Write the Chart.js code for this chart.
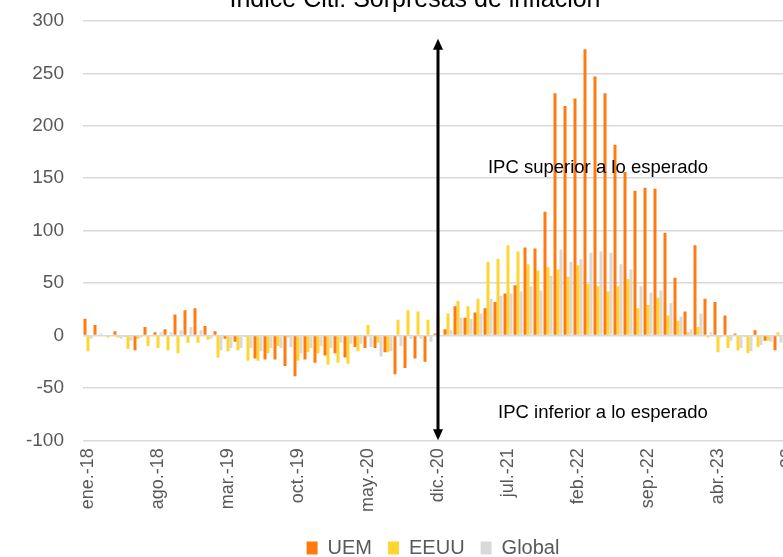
<!DOCTYPE html>
<html>
<head>
<meta charset="utf-8">
<script src="https://cdn.jsdelivr.net/npm/chart.js@4"></script>
<style>
  html, body { margin: 0; padding: 0; background: #fff; overflow: hidden; }
  body { width: 783px; height: 557px; position: relative; }
  #wrap { position: absolute; left: 0; top: -22px; width: 830px; height: 590px; }
</style>
</head>
<body>
<div id="wrap"><canvas id="chart"></canvas></div>
<script>
// meses y años del eje x
const MONTHS = ["ene", "feb", "mar", "abr", "may", "jun", "jul", "ago", "sep", "oct", "nov", "dic"];
const YEARS = ["18", "19", "20", "21", "22", "23"];
const LAST_MONTH = 10; // nov-23

const labels = [];
YEARS.forEach((yy, yi) => {
  MONTHS.forEach((mm, mi) => {
    if (yi === YEARS.length - 1 && mi > LAST_MONTH) return;
    labels.push(mm + ".-" + yy);
  });
});

// valores del índice (ene-18 ... oct-23; nov-23 sin dato visible)
const uem = [
  16, 10, 0, 4, -1, -14, 8, 3, 6, 20, 24, 26,
  9, 4, -3, -6, -1, -22, -23, -23, -29, -39, -23, -26,
  -19, -17, -21, -11, -12, -12, -16, -37, -31, -22, -25, 2,
  6, 28, 17, 22, 26, 32, 40, 48, 84, 83, 118, 231,
  219, 226, 273, 247, 231, 182, 156, 138, 141, 140, 98, 55,
  23, 86, 35, 32, 19, 2, -1, 5, -5, -14, null
];
const eeuu = [
  -15, 0, -2, -2, -13, -3, -10, -12, -14, -17, -7, -7,
  -4, -21, -15, -14, -24, -24, -17, -10, -2, -24, -16, -17,
  -28, -26, -27, -15, 10, -7, -16, 15, 24, 23, 15, 19,
  21, 33, 28, 35, 70, 73, 86, 80, 68, 62, 65, 63,
  56, 67, 49, 47, 42, 47, 54, 26, 29, 36, 19, 14,
  3, 8, -2, -16, -12, -14, -17, -11, -5, 3, null
];
const global = [
  -3, 2, 0, -3, -5, -2, 0, 3, 3, 5, 8, 5,
  -3, -14, -12, -12, -12, -15, -12, -12, -11, -17, -12, -10,
  -12, -7, -8, -8, -11, -20, -15, -10, -3, -3, -6, 0,
  5, 17, 16, 21, 35, 38, 40, 42, 47, 43, 57, 82,
  70, 73, 79, 80, 79, 68, 63, 47, 41, 43, 31, 18,
  6, 21, 3, -2, -5, -12, -15, -9, -6, -7, null
];

const Y_MIN = -100;
const Y_MAX = 300;
const Y_STEP = 50;
const LABEL_EVERY = 7;

// flecha y textos
const ARROW_AT = "dic.-20";
const ARROW_FROM = 283;
const ARROW_TO = -100;
const notes = [
  { text: "IPC superior a lo esperado", at: 51, value: 160 },
  { text: "IPC inferior a lo esperado", at: 51.5, value: -74 },
];

const FONT = "'Liberation Sans', Arial, sans-serif";
const GREY_TEXT = "#595959";

// FLECHA DOBLE Y ANOTACIONES
const arrowPlugin = {
  id: "arrowNotes",
  afterLayout(chart) {
    // leyenda algo desplazada a la derecha como en el original
    chart.legend.left += 18;
    chart.legend.right += 18;
  },
  afterDatasetsDraw(chart) {
    const { ctx, scales } = chart;
    const x = scales.x.getPixelForValue(labels.indexOf(ARROW_AT));
    const yTop = scales.y.getPixelForValue(ARROW_FROM);
    const yBot = scales.y.getPixelForValue(ARROW_TO);
    const head = 10;
    ctx.save();
    ctx.strokeStyle = "#000";
    ctx.fillStyle = "#000";
    ctx.lineWidth = 3;
    ctx.beginPath();
    ctx.moveTo(x, yTop + head);
    ctx.lineTo(x, yBot - head);
    ctx.stroke();
    ctx.beginPath();
    ctx.moveTo(x, yTop);
    ctx.lineTo(x - 5, yTop + head + 1);
    ctx.lineTo(x + 5, yTop + head + 1);
    ctx.closePath();
    ctx.fill();
    ctx.beginPath();
    ctx.moveTo(x, yBot);
    ctx.lineTo(x - 5, yBot - head - 1);
    ctx.lineTo(x + 5, yBot - head - 1);
    ctx.closePath();
    ctx.fill();

    ctx.font = "18.5px " + FONT;
    ctx.textAlign = "center";
    ctx.textBaseline = "middle";
    notes.forEach((n) => {
      ctx.fillText(n.text, scales.x.getPixelForValue(n.at), scales.y.getPixelForValue(n.value));
    });
    ctx.restore();
  },
};

const chart = new Chart(document.getElementById("chart"), {
  type: "bar",
  data: {
    labels: labels,
    datasets: [
      { label: "UEM", data: uem, backgroundColor: "#ff7b0f" },
      { label: "EEUU", data: eeuu, backgroundColor: "#ffd530" },
      { label: "Global", data: global, backgroundColor: "#d9d9d9" },
    ],
  },
  options: {
    responsive: true,
    maintainAspectRatio: false,
    animation: false,
    categoryPercentage: 0.9,
    barPercentage: 1.0,
    layout: { padding: 0 },
    plugins: {
      title: {
        display: true,
        text: "Índice Citi: Sorpresas de inflación",
        color: "#000",
        font: { family: FONT, size: 25, weight: "normal" },
        padding: { top: 7, bottom: 6 },
      },
      legend: {
        position: "bottom",
        labels: {
          boxWidth: 11,
          boxHeight: 13,
          padding: 16,
          color: GREY_TEXT,
          font: { family: FONT, size: 20 },
        },
      },
      tooltip: { enabled: false },
    },
    scales: {
      x: {
        grid: { display: false },
        border: { display: false },
        afterFit: (s) => { s.height += 10; },
        ticks: {
          autoSkip: false,
          minRotation: 90,
          maxRotation: 90,
          padding: 0,
          color: GREY_TEXT,
          font: { family: FONT, size: 18 },
          callback: (v, i) => (i % LABEL_EVERY === 0 ? labels[i] : ""),
        },
      },
      y: {
        min: Y_MIN,
        max: Y_MAX,
        afterFit: (s) => { s.width = 83; },
        grid: { color: "#d9d9d9", lineWidth: 1.5, drawTicks: false },
        border: { display: false },
        ticks: {
          stepSize: Y_STEP,
          padding: 19,
          color: GREY_TEXT,
          font: { family: FONT, size: 19 },
        },
      },
      y2: {
        position: "right",
        afterFit: (s) => { s.width = 37; },
        grid: { display: false },
        border: { display: false },
        ticks: { display: false },
      },
    },
  },
  plugins: [arrowPlugin],
});
</script>
</body>
</html>
